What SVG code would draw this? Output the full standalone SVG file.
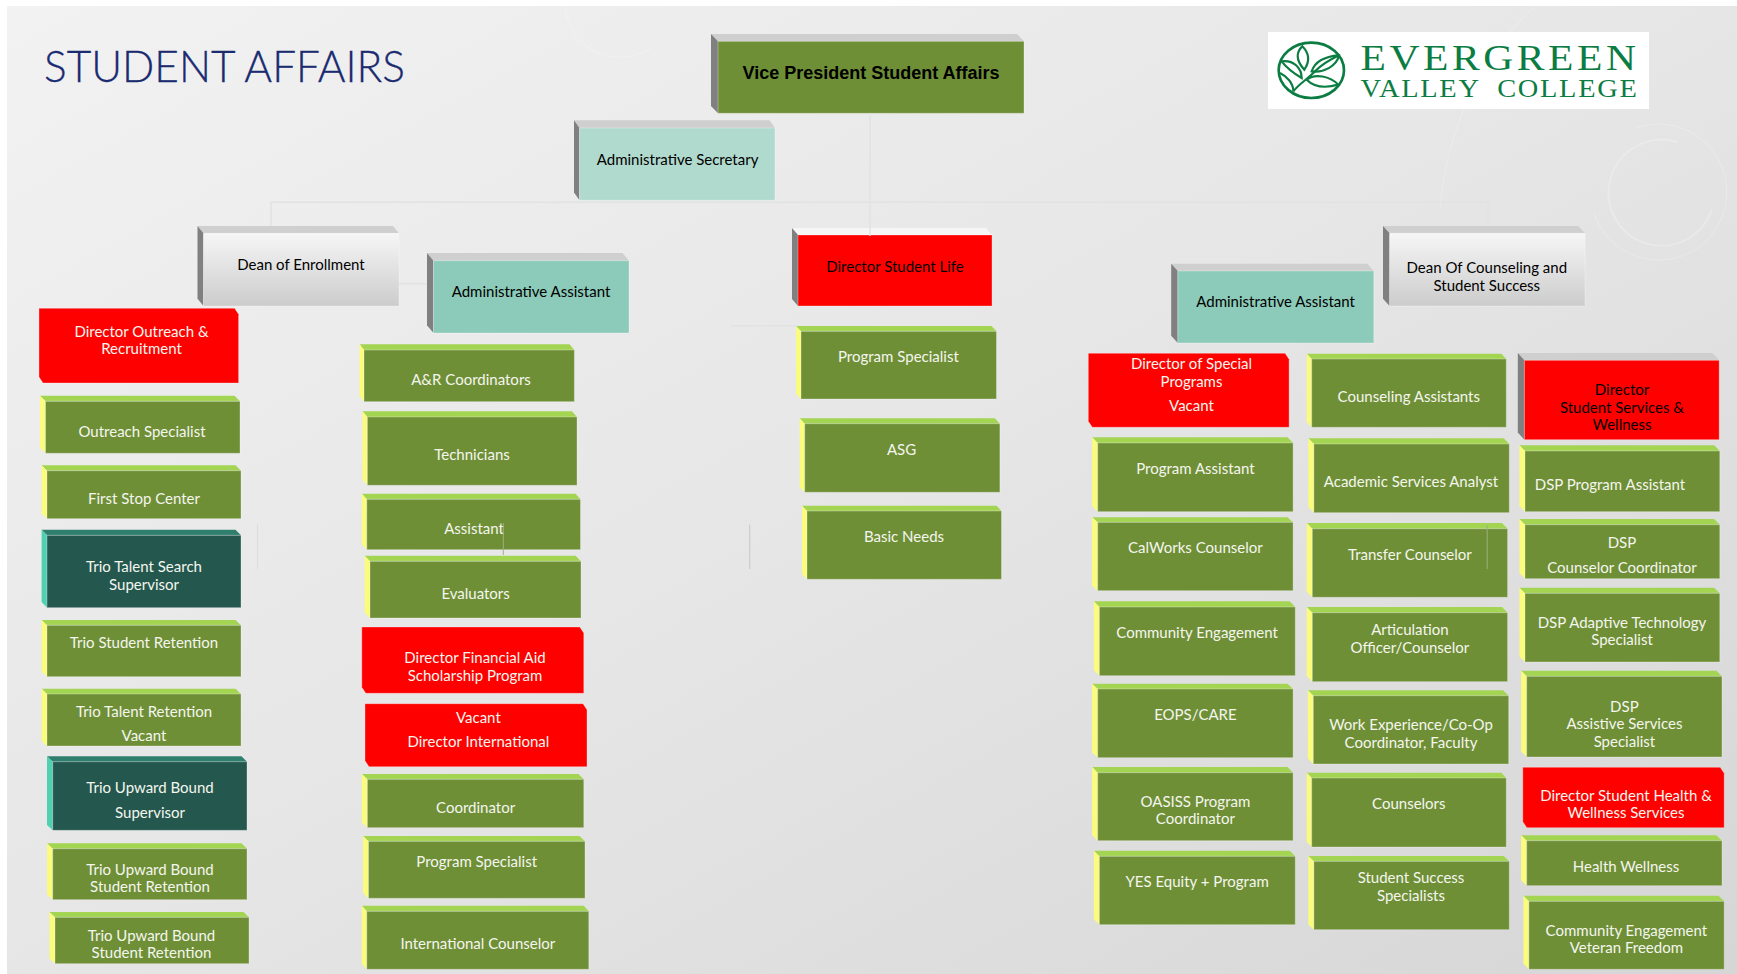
<svg xmlns="http://www.w3.org/2000/svg" width="1737" height="974" viewBox="0 0 1737 974">
<style>
text{font-family:Lato,"Open Sans","Liberation Sans",sans-serif;font-size:15px;text-anchor:middle;fill:#f4f6ee}
.dark text{fill:#000}
.f{stroke:#fff;stroke-opacity:.3;stroke-width:1}
.green .t{fill:#a3d553}.green .l{fill:#fbfb7d}.green .f{fill:#6f8f37}
.teal .t{fill:#2f7f6f}.teal .l{fill:#4fd1b0}.teal .f{fill:#24584f}
.grey .t{fill:#cfcfcf}.grey .l{fill:#808080}
.red .f{fill:#ff0000}
.vp .f{fill:#6f8f37}.sec .f{fill:#b0dace}.aa .f{fill:#8ccbb9}.dean .f{fill:url(#dean)}.rd .f{fill:#ff0000}
.wire{fill:none;stroke:#e2e2e2;stroke-width:1.5}
.wire2{fill:none;stroke:#9fb07f;stroke-width:1}
.deco{fill:none;stroke:#fff;stroke-opacity:.22}
.leaf{fill:none;stroke:#0b7d43;stroke-width:6.5}
.logo1{font-family:'Liberation Serif',serif;fill:#0b7d43}
</style>
<defs>
<linearGradient id="bg" x1="0" y1="0" x2="1" y2="1"><stop offset="0" stop-color="#f2f2f2"/><stop offset=".5" stop-color="#e6e6e6"/><stop offset="1" stop-color="#d6d6d6"/></linearGradient>
<linearGradient id="dean" x1="0" y1="0" x2="0" y2="1"><stop offset="0" stop-color="#f6f6f6"/><stop offset="1" stop-color="#cccccc"/></linearGradient>
</defs>
<rect width="1737" height="974" fill="#fff"/>
<rect x="7" y="6" width="1730" height="968" fill="url(#bg)"/>
<g id="background-decoration">
<path class="deco" stroke-width="2" d="M1677 142A53 53 0 1 0 1712 209"/>
<path class="deco" stroke-width="1" d="M1636 128A68 68 0 1 1 1594 213"/>
<path class="deco" stroke-width="1" d="M1440 210C1445 140 1475 60 1535 6"/>
<path class="deco" stroke-width="1" d="M565 6A55 55 0 0 0 660 40"/>
</g>
<text id="title" x="224.5" y="81.7" style="font-size:44px;font-weight:300;fill:#1a2b70;stroke:#1a2b70;stroke-width:.3" textLength="361" lengthAdjust="spacingAndGlyphs">STUDENT AFFAIRS</text>
<g id="logo">
<rect x="1268" y="32" width="381" height="77" fill="#fff"/>
<g transform="translate(1265 28) scale(.3333)">
<ellipse class="leaf" cx="139" cy="127" rx="98" ry="83" style="stroke-width:8"/>
<path class="leaf" d="M85 190C105 165 130 152 150 130C165 115 195 95 222 82"/>
<path class="leaf" d="M118 125C90 95 95 70 112 55C132 75 135 100 118 125Z"/>
<path class="leaf" d="M140 130C150 100 180 85 222 82C215 115 175 135 140 130Z"/>
<path class="leaf" d="M110 150C85 135 65 120 50 100C85 95 110 120 110 150Z"/>
<path class="leaf" d="M45 135C65 145 85 165 85 190"/>
<path class="leaf" d="M125 155C150 135 195 145 220 170C185 180 150 180 125 155Z"/>
</g>
<text class="logo1" x="1500" y="70" style="font-size:35px;letter-spacing:3px;fill:#0b7d43" textLength="279" lengthAdjust="spacingAndGlyphs">EVERGREEN</text>
<text class="logo1" x="1499.5" y="96.7" style="font-size:25px;letter-spacing:1.5px;white-space:pre;fill:#0b7d43" textLength="278" lengthAdjust="spacingAndGlyphs" xml:space="preserve">VALLEY  COLLEGE</text>
</g>
<g id="nodes">
<g id="vp" class="grey vp dark"><path class="t" d="M711 34H1017L1024 41.3H718Z"/><path class="l" d="M711 34L718 41.3V113.3L711 106Z"/><rect class="f" x="718" y="41.3" width="306" height="72"/><text x="871" y="79" style="font-family:'Liberation Sans',sans-serif;font-size:18px;font-weight:700">Vice President Student Affairs</text></g>
<g id="admin-secretary" class="grey sec dark"><path class="t" d="M574 120.3H769.5L775 128H579.5Z"/><path class="l" d="M574 120.3L579.5 128V200.3L574 192.6Z"/><rect class="f" x="579.5" y="128" width="195.5" height="72.3"/><text x="677.6" y="165">Administrative Secretary</text></g>
<g id="dean-enrollment" class="grey dean dark"><path class="t" d="M197.5 226H393L399 233.3H203.5Z"/><path class="l" d="M197.5 226L203.5 233.3V306L197.5 298.7Z"/><rect class="f" x="203.5" y="233.3" width="195.5" height="72.7"/><text x="301" y="270">Dean of Enrollment</text></g>
<g id="admin-assistant-1" class="grey aa dark"><path class="t" d="M427 253H622.5L629 260.7H433.5Z"/><path class="l" d="M427 253L433.5 260.7V333L427 325.3Z"/><rect class="f" x="433.5" y="260.7" width="195.5" height="72.3"/><text x="531" y="297.3">Administrative Assistant</text></g>
<g id="director-student-life" class="rd dark"><path d="M792 228H986L992 235H798Z" fill="#f6f6f6"/><path d="M792 228L798 235V306L792 299Z" fill="#808080"/><rect class="f" x="798" y="235" width="194" height="71"/><text x="895" y="271.7">Director Student Life</text></g>
<g id="director-outreach" class="red"><path class="f" d="M39 308.3H234.6L238.6 314.3V383H43L39 377Z"/><text x="141.5" y="336.7">Director Outreach &amp;</text><text x="141.5" y="354.3">Recruitment</text></g>
<g id="outreach-specialist" class="green"><path class="t" d="M40 395.7H234.5L240 401.3H45.5Z"/><path class="l" d="M40 395.7L45.5 401.3V453.3L40 447.7Z"/><rect class="f" x="45.5" y="401.3" width="194.5" height="52"/><text x="142" y="436.7">Outreach Specialist</text></g>
<g id="first-stop" class="green"><path class="t" d="M41.6 465.3H235.5L241 470.7H47Z"/><path class="l" d="M41.6 465.3L47 470.7V518.7L41.6 513.3Z"/><rect class="f" x="47" y="470.7" width="194" height="48"/><text x="144" y="504">First Stop Center</text></g>
<g id="trio-talent-search" class="teal"><path class="t" d="M41.6 529.7H235.5L241 535.3H47Z"/><path class="l" d="M41.6 529.7L47 535.3V607.7L41.6 602Z"/><rect class="f" x="47" y="535.3" width="194" height="72.4"/><text x="144" y="572">Trio Talent Search</text><text x="144" y="589.7">Supervisor</text></g>
<g id="trio-student-retention" class="green"><path class="t" d="M41.6 620H235.5L241 625.3H47Z"/><path class="l" d="M41.6 620L47 625.3V676.7L41.6 671.4Z"/><rect class="f" x="47" y="625.3" width="194" height="51.4"/><text x="144" y="647.7">Trio Student Retention</text></g>
<g id="trio-talent-retention" class="green"><path class="t" d="M41.6 688.7H235.5L241 694H47Z"/><path class="l" d="M41.6 688.7L47 694V746L41.6 740.7Z"/><rect class="f" x="47" y="694" width="194" height="52"/><text x="144" y="717">Trio Talent Retention</text><text x="144" y="741.3">Vacant</text></g>
<g id="trio-upward-supervisor" class="teal"><path class="t" d="M47 756.3H241.5L247 761.7H52.7Z"/><path class="l" d="M47 756.3L52.7 761.7V830.3L47 825Z"/><rect class="f" x="52.7" y="761.7" width="194.3" height="68.6"/><text x="150" y="793.3">Trio Upward Bound</text><text x="150" y="817.7">Supervisor</text></g>
<g id="trio-upward-retention-1" class="green"><path class="t" d="M47 843.3H241.5L247 848.7H52.7Z"/><path class="l" d="M47 843.3L52.7 848.7V899.7L47 894.3Z"/><rect class="f" x="52.7" y="848.7" width="194.3" height="51"/><text x="150" y="874.7">Trio Upward Bound</text><text x="150" y="892">Student Retention</text></g>
<g id="trio-upward-retention-2" class="green"><path class="t" d="M49.4 912H243.5L249 917.3H55Z"/><path class="l" d="M49.4 912L55 917.3V963.7L49.4 958.4Z"/><rect class="f" x="55" y="917.3" width="194" height="46.4"/><text x="151.5" y="940.7">Trio Upward Bound</text><text x="151.5" y="958">Student Retention</text></g>
<g id="ar-coordinators" class="green"><path class="t" d="M359.6 344.3H569.5L574.4 350H364Z"/><path class="l" d="M359.6 344.3L364 350V401.7L359.6 396Z"/><rect class="f" x="364" y="350" width="210.4" height="51.7"/><text x="471" y="385">A&amp;R Coordinators</text></g>
<g id="technicians" class="green"><path class="t" d="M362.4 411.3H572L577 417H367.4Z"/><path class="l" d="M362.4 411.3L367.4 417V485.3L362.4 479.6Z"/><rect class="f" x="367.4" y="417" width="209.6" height="68.3"/><text x="472" y="460">Technicians</text></g>
<g id="assistant" class="green"><path class="t" d="M361.8 493.7H575.5L580.5 499.3H366.8Z"/><path class="l" d="M361.8 493.7L366.8 499.3V549.7L361.8 544Z"/><rect class="f" x="366.8" y="499.3" width="213.7" height="50.4"/><text x="474" y="533.7">Assistant</text></g>
<g id="evaluators" class="green"><path class="t" d="M364.6 555.7H575.6L581 561.3H370Z"/><path class="l" d="M364.6 555.7L370 561.3V618L364.6 612.4Z"/><rect class="f" x="370" y="561.3" width="211" height="56.7"/><text x="475.6" y="599">Evaluators</text></g>
<g id="director-financial-aid" class="red"><path class="f" d="M361.8 627H579.8L583.8 633V693.3H365.8L361.8 687.3Z"/><text x="475" y="663.3">Director Financial Aid</text><text x="475" y="681">Scholarship Program</text></g>
<g id="director-international" class="red"><path class="f" d="M365 703.7H583L587 709.7V766.7H369L365 760.7Z"/><text x="478.4" y="723.3">Vacant</text><text x="478.4" y="747.3">Director International</text></g>
<g id="coordinator" class="green"><path class="t" d="M361.8 774H578.5L583.8 779.3H367.4Z"/><path class="l" d="M361.8 774L367.4 779.3V827.7L361.8 822.4Z"/><rect class="f" x="367.4" y="779.3" width="216.4" height="48.4"/><text x="475.6" y="813">Coordinator</text></g>
<g id="program-specialist-1" class="green"><path class="t" d="M363 836H579.5L585 841.3H368.5Z"/><path class="l" d="M363 836L368.5 841.3V898.3L363 893Z"/><rect class="f" x="368.5" y="841.3" width="216.5" height="57"/><text x="476.7" y="867">Program Specialist</text></g>
<g id="international-counselor" class="green"><path class="t" d="M361.8 905.7H583.8L588.8 911.3H366.8Z"/><path class="l" d="M361.8 905.7L366.8 911.3V969.3L361.8 963.7Z"/><rect class="f" x="366.8" y="911.3" width="222" height="58"/><text x="477.8" y="949.3">International Counselor</text></g>
<g id="program-specialist-2" class="green"><path class="t" d="M796 326H991.5L996.5 331.3H801Z"/><path class="l" d="M796 326L801 331.3V399L796 393.7Z"/><rect class="f" x="801" y="331.3" width="195.5" height="67.7"/><text x="898.4" y="362.3">Program Specialist</text></g>
<g id="asg" class="green"><path class="t" d="M799.7 418.3H994.9L999.9 423.7H804.7Z"/><path class="l" d="M799.7 418.3L804.7 423.7V492.3L799.7 486.9Z"/><rect class="f" x="804.7" y="423.7" width="195.2" height="68.6"/><text x="901.6" y="454.7">ASG</text></g>
<g id="basic-needs" class="green"><path class="t" d="M802 505.7H996.5L1001.5 511H807Z"/><path class="l" d="M802 505.7L807 511V579.3L802 574Z"/><rect class="f" x="807" y="511" width="194.5" height="68.3"/><text x="904" y="542">Basic Needs</text></g>
<g id="admin-assistant-2" class="grey aa dark" transform="translate(-1.2 0)"><path class="t" d="M1172.4 263.7H1368.4L1375 271H1179Z"/><path class="l" d="M1172.4 263.7L1179 271V343L1172.4 335.7Z"/><rect class="f" x="1179" y="271" width="196" height="72"/><text x="1276.8" y="307.3">Administrative Assistant</text></g>
<g id="dean-counseling" class="grey dean dark" transform="translate(-2 0)"><path class="t" d="M1385 226H1580.4L1587 233.3H1391.6Z"/><path class="l" d="M1385 226L1391.6 233.3V306L1385 298.7Z"/><rect class="f" x="1391.6" y="233.3" width="195.4" height="72.7"/><text x="1488.8" y="273">Dean Of Counseling and</text><text x="1488.8" y="291">Student Success</text></g>
<g id="column-special-programs" transform="translate(-0.9 0)">
<g id="director-special-programs" class="red"><path class="f" d="M1089.2 353.3H1286L1290 359.3V427.3H1093.2L1089.2 421.3Z"/><text x="1192.4" y="369">Director of Special</text><text x="1192.4" y="387">Programs</text><text x="1192.4" y="411">Vacant</text></g>
<g id="program-assistant" class="green"><path class="t" d="M1093 437.3H1288.4L1294 443H1098.6Z"/><path class="l" d="M1093 437.3L1098.6 443V511.7L1093 506Z"/><rect class="f" x="1098.6" y="443" width="195.4" height="68.7"/><text x="1196.3" y="474.3">Program Assistant</text></g>
<g id="calworks" class="green"><path class="t" d="M1093 517.3H1288.4L1294 522.3H1098.6Z"/><path class="l" d="M1093 517.3L1098.6 522.3V590.7L1093 585.7Z"/><rect class="f" x="1098.6" y="522.3" width="195.4" height="68.4"/><text x="1196.3" y="553.3">CalWorks Counselor</text></g>
<g id="community-engagement" class="green"><path class="t" d="M1094.7 601.3H1290.6L1296.2 607H1100.3Z"/><path class="l" d="M1094.7 601.3L1100.3 607V675.7L1094.7 670Z"/><rect class="f" x="1100.3" y="607" width="195.9" height="68.7"/><text x="1198" y="638">Community Engagement</text></g>
<g id="eops" class="green"><path class="t" d="M1093 683.7H1288.4L1294 689H1098.6Z"/><path class="l" d="M1093 683.7L1098.6 689V757.7L1093 752.4Z"/><rect class="f" x="1098.6" y="689" width="195.4" height="68.7"/><text x="1196.3" y="720.3">EOPS/CARE</text></g>
<g id="oasiss" class="green"><path class="t" d="M1093 767H1288.4L1294 772.7H1098.6Z"/><path class="l" d="M1093 767L1098.6 772.7V840.7L1093 835Z"/><rect class="f" x="1098.6" y="772.7" width="195.4" height="68"/><text x="1196.3" y="807">OASISS Program</text><text x="1196.3" y="824.3">Coordinator</text></g>
<g id="yes-equity" class="green"><path class="t" d="M1094.7 850.7H1290.6L1296.2 856.3H1100.3Z"/><path class="l" d="M1094.7 850.7L1100.3 856.3V924.7L1094.7 919Z"/><rect class="f" x="1100.3" y="856.3" width="195.9" height="68.4"/><text x="1198" y="887.3">YES Equity + Program</text></g>
</g>
<g id="column-counseling" transform="translate(-1.7 0)">
<g id="counseling-assistants" class="green"><path class="t" d="M1308.4 353.7H1503L1508 359H1313.4Z"/><path class="l" d="M1308.4 353.7L1313.4 359V427.3L1308.4 422Z"/><rect class="f" x="1313.4" y="359" width="194.6" height="68.3"/><text x="1410.5" y="402.3">Counseling Assistants</text></g>
<g id="academic-services" class="green"><path class="t" d="M1310 438.3H1505.4L1511 444H1315.6Z"/><path class="l" d="M1310 438.3L1315.6 444V512.7L1310 507Z"/><rect class="f" x="1315.6" y="444" width="195.4" height="68.7"/><text x="1412.7" y="487">Academic Services Analyst</text></g>
<g id="transfer-counselor" class="green"><path class="t" d="M1308.4 523H1503.7L1509.3 528.7H1314Z"/><path class="l" d="M1308.4 523L1314 528.7V597.3L1308.4 591.6Z"/><rect class="f" x="1314" y="528.7" width="195.3" height="68.6"/><text x="1411.6" y="560">Transfer Counselor</text></g>
<g id="articulation" class="green"><path class="t" d="M1308.4 607H1503.7L1509.3 612.7H1314Z"/><path class="l" d="M1308.4 607L1314 612.7V681.7L1308.4 676Z"/><rect class="f" x="1314" y="612.7" width="195.3" height="69"/><text x="1411.6" y="635.3">Articulation</text><text x="1411.6" y="652.7">Officer/Counselor</text></g>
<g id="work-experience" class="green"><path class="t" d="M1309.5 690.3H1504.8L1510.4 695.7H1315Z"/><path class="l" d="M1309.5 690.3L1315 695.7V764L1309.5 758.6Z"/><rect class="f" x="1315" y="695.7" width="195.4" height="68.3"/><text x="1412.7" y="730">Work Experience/Co-Op</text><text x="1412.7" y="747.7">Coordinator, Faculty</text></g>
<g id="counselors" class="green"><path class="t" d="M1308.4 772.7H1503L1508 778H1313.4Z"/><path class="l" d="M1308.4 772.7L1313.4 778V847L1308.4 841.7Z"/><rect class="f" x="1313.4" y="778" width="194.6" height="69"/><text x="1410.5" y="809.3">Counselors</text></g>
<g id="student-success" class="green"><path class="t" d="M1310 856H1505.4L1511 861.3H1315.6Z"/><path class="l" d="M1310 856L1315.6 861.3V929.7L1310 924.4Z"/><rect class="f" x="1315.6" y="861.3" width="195.4" height="68.4"/><text x="1412.7" y="883.3">Student Success</text><text x="1412.7" y="901">Specialists</text></g>
</g>
<g id="column-services" transform="translate(-2.6 0)">
<g id="director-student-services" class="grey rd dark"><path class="t" d="M1520.4 353H1715.2L1721.8 360.3H1527Z"/><path class="l" d="M1520.4 353L1527 360.3V439.7L1520.4 432.4Z"/><rect class="f" x="1527" y="360.3" width="194.8" height="79.4"/><text x="1624.6" y="395.3">Director</text><text x="1624.6" y="413">Student Services &amp;</text><text x="1624.6" y="430.3">Wellness</text></g>
<g id="dsp-program-assistant" class="green"><path class="t" d="M1522 445.3H1716.8L1722.4 451H1527.6Z"/><path class="l" d="M1522 445.3L1527.6 451V511.7L1522 506Z"/><rect class="f" x="1527.6" y="451" width="194.8" height="60.7"/><text x="1612.6" y="490">DSP Program Assistant</text></g>
<g id="dsp-counselor" class="green"><path class="t" d="M1522 519H1716.8L1722.4 524.7H1527.6Z"/><path class="l" d="M1522 519L1527.6 524.7V578.7L1522 573Z"/><rect class="f" x="1527.6" y="524.7" width="194.8" height="54"/><text x="1624.6" y="548">DSP</text><text x="1624.6" y="573">Counselor Coordinator</text></g>
<g id="dsp-adaptive" class="green"><path class="t" d="M1522 587.7H1716.8L1722.4 593.3H1527.6Z"/><path class="l" d="M1522 587.7L1527.6 593.3V662L1522 656.4Z"/><rect class="f" x="1527.6" y="593.3" width="194.8" height="68.7"/><text x="1624.6" y="627.7">DSP Adaptive Technology</text><text x="1624.6" y="645.3">Specialist</text></g>
<g id="dsp-assistive" class="green"><path class="t" d="M1523.7 670.7H1719L1724.6 676.3H1529.3Z"/><path class="l" d="M1523.7 670.7L1529.3 676.3V757L1523.7 751.4Z"/><rect class="f" x="1529.3" y="676.3" width="195.3" height="80.7"/><text x="1627" y="711.7">DSP</text><text x="1627" y="729.3">Assistive Services</text><text x="1627" y="746.7">Specialist</text></g>
<g id="director-student-health" class="red"><path class="f" d="M1525.4 767.3H1722.8L1726.8 773.3V827.7H1529.4L1525.4 821.7Z"/><text x="1628.6" y="801">Director Student Health &amp;</text><text x="1628.6" y="818.3">Wellness Services</text></g>
<g id="health-wellness" class="green"><path class="t" d="M1523.7 835.3H1719L1724.6 840.7H1529.3Z"/><path class="l" d="M1523.7 835.3L1529.3 840.7V885.7L1523.7 880.3Z"/><rect class="f" x="1529.3" y="840.7" width="195.3" height="45"/><text x="1628.6" y="872">Health Wellness</text></g>
<g id="community-veteran" class="green"><path class="t" d="M1526 895.7H1721.2L1726.8 901.3H1531.5Z"/><path class="l" d="M1526 895.7L1531.5 901.3V969.3L1526 963.7Z"/><rect class="f" x="1531.5" y="901.3" width="195.3" height="68"/><text x="1629" y="935.7">Community Engagement</text><text x="1629" y="953">Veteran Freedom</text></g>
</g>
</g>
<g id="connectors">
<path class="wire" d="M271 226V202.3H1488V226"/>
<path class="wire" d="M870 113.3V236"/>
<path class="wire" d="M399 283.7H427"/>
<path class="wire" d="M731 325.7H797"/>
<path class="wire" d="M257.5 524.7V569" style="stroke:#dcdcdc;stroke-width:1"/>
<path class="wire" d="M749.7 524.7V569" style="stroke:#c8c8c8;stroke-width:1"/>
<path class="wire2" d="M503.3 523V555"/>
<path class="wire2" d="M1487.2 525V569"/>
</g>
</svg>
